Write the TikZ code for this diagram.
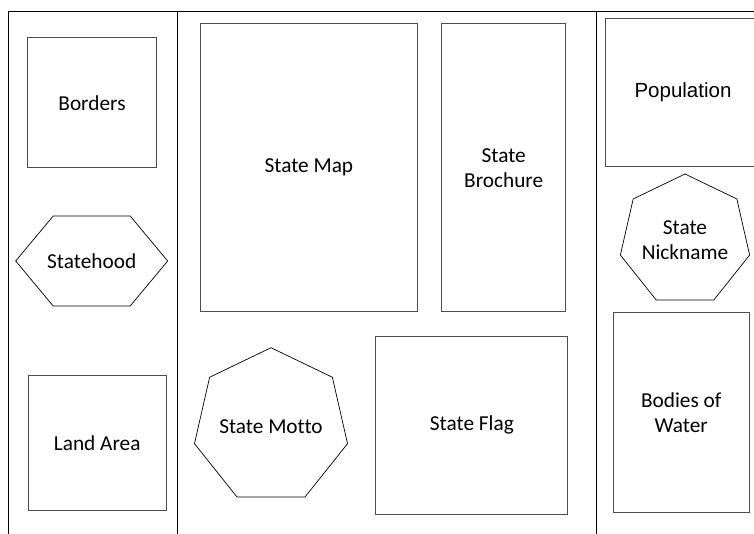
\documentclass[tikz,border=0pt]{standalone}
\usepackage{fontspec}
\setmainfont{Carlito}[Ligatures={NoCommon}]
\newfontfamily\arialfont{Liberation Sans}
\usetikzlibrary{shapes,positioning}
\tikzset{box/.style={rectangle,draw=black!70,line width=0.9pt,inner sep=0pt,outer sep=0pt,align=center}}
\tikzset{hepta/.style={regular polygon,regular polygon sides=7,draw=black,line width=0.7pt,inner sep=0pt,outer sep=0pt}}
\tikzset{frame/.style={draw=black,line width=0.8pt}}

\begin{document}
\begin{tikzpicture}[x=1pt,y=-1pt,font=\fontsize{21.3}{25}\selectfont]
        \useasboundingbox (0,0) rectangle (754,534);
        \clip (0,0) rectangle (754,534);
        \draw[frame] (8,534) -- (8,11) -- (754,11);
        \draw[frame] (177,11) -- (177,534);
        \draw[frame] (596,11) -- (596,534);

        \node[box,minimum width=128.7pt,minimum height=130pt] (borders) at (92,102.7) {Borders};
        \node (statehood) at (91.7,261) {Statehood};
        \draw[line width=0.7pt] (statehood.center) +(-76,0) -- +(-38.5,-45) -- +(38.5,-45)
            -- +(76,0) -- +(38.5,45) -- +(-38.5,45) -- cycle;
        \node[box,minimum width=137.7pt,minimum height=134.3pt] (landarea) at (97.2,442.9) {Land Area};

        \node[box,minimum width=217.7pt,minimum height=287.7pt] (statemap) at (308.9,167.8) {State Map};
        \node[box,minimum width=124pt,minimum height=287.7pt] (brochure) at (503.7,167.8) {State\\Brochure};
        \node[hepta,minimum size=157pt,label=center:{State Motto}] (motto) at (271,426.2) {};
        \node[box,minimum width=192pt,minimum height=178.7pt] (flag) at (471.9,425.3) {State Flag};

        \node[box,minimum width=154.6pt,minimum height=148.4pt,font=\arialfont\fontsize{20.5}{24}\selectfont] (population) at (683,92.5) {Population};
        \node[hepta,minimum size=132.6pt,label={[align=center]center:State\\Nickname}] (nickname) at (685,240.3) {};
        \node[box,minimum width=136pt,minimum height=200pt] (water) at (681.3,412.3) {Bodies of\\Water};
\end{tikzpicture}
\end{document}
